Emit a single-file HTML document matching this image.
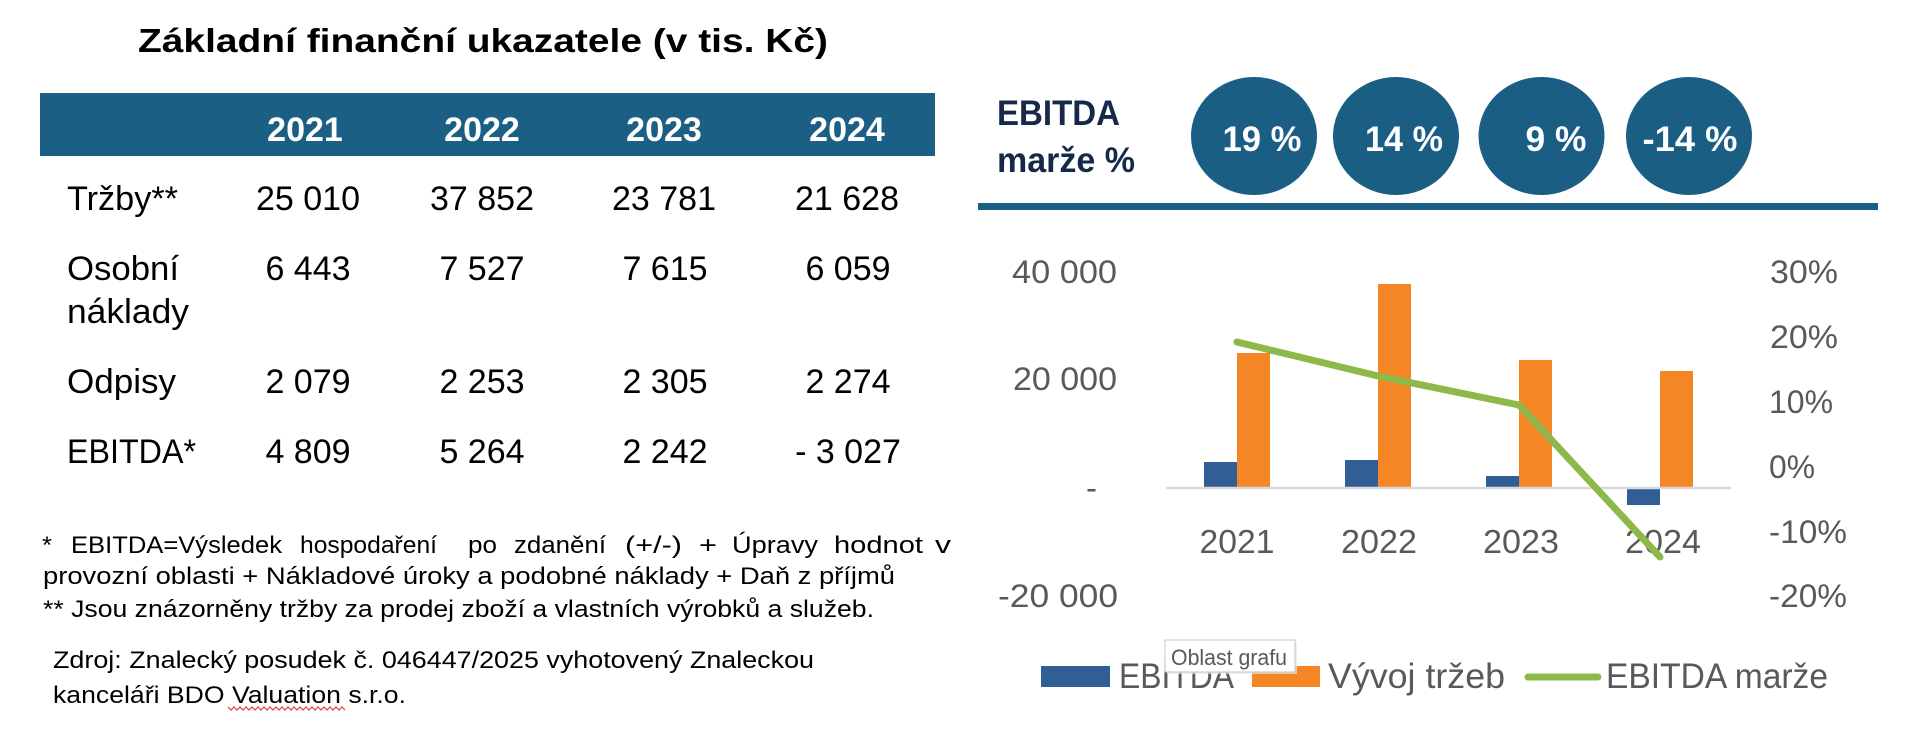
<!DOCTYPE html>
<html>
<head>
<meta charset="utf-8">
<style>
  html,body{margin:0;padding:0;background:#fff;}
  svg{display:block;}
  text{font-family:"Liberation Sans", "DejaVu Sans", sans-serif;}
</style>
</head>
<body>
<svg width="1920" height="739" viewBox="0 0 1920 739" xmlns="http://www.w3.org/2000/svg">
  <rect x="0" y="0" width="1920" height="739" fill="#ffffff"/>

  <!-- Title -->
  <text x="138" y="52" font-size="33" font-weight="bold" fill="#000" textLength="690" lengthAdjust="spacingAndGlyphs">Základní finanční ukazatele (v tis. Kč)</text>

  <!-- Table header -->
  <rect x="40" y="93" width="895" height="63" fill="#1c5f84"/>
  <g font-size="34" font-weight="bold" fill="#ffffff" text-anchor="middle">
    <text x="305" y="141">2021</text>
    <text x="482" y="141">2022</text>
    <text x="664" y="141">2023</text>
    <text x="847" y="141">2024</text>
  </g>

  <!-- Table rows -->
  <g font-size="34" fill="#000">
    <text x="67" y="210" textLength="111" lengthAdjust="spacingAndGlyphs">Tržby**</text>
    <text x="67" y="280" textLength="112" lengthAdjust="spacingAndGlyphs">Osobní</text>
    <text x="67" y="323" textLength="122" lengthAdjust="spacingAndGlyphs">náklady</text>
    <text x="67" y="393" textLength="109" lengthAdjust="spacingAndGlyphs">Odpisy</text>
    <text x="67" y="463" textLength="129" lengthAdjust="spacingAndGlyphs">EBITDA*</text>
  </g>
  <g font-size="34" fill="#000" text-anchor="middle">
    <text x="308" y="210">25 010</text>
    <text x="482" y="210">37 852</text>
    <text x="664" y="210">23 781</text>
    <text x="847" y="210">21 628</text>

    <text x="308" y="280">6 443</text>
    <text x="482" y="280">7 527</text>
    <text x="665" y="280">7 615</text>
    <text x="848" y="280">6 059</text>

    <text x="308" y="393">2 079</text>
    <text x="482" y="393">2 253</text>
    <text x="665" y="393">2 305</text>
    <text x="848" y="393">2 274</text>

    <text x="308" y="463">4 809</text>
    <text x="482" y="463">5 264</text>
    <text x="665" y="463">2 242</text>
    <text x="848" y="463">- 3 027</text>
  </g>

  <!-- Footnotes -->
  <g font-size="24.5" fill="#000">
    <text x="42" y="553" textLength="10" lengthAdjust="spacingAndGlyphs">*</text>
    <text x="71" y="553" textLength="211" lengthAdjust="spacingAndGlyphs">EBITDA=Výsledek</text>
    <text x="300" y="553" textLength="137" lengthAdjust="spacingAndGlyphs">hospodaření</text>
    <text x="468" y="553" textLength="29" lengthAdjust="spacingAndGlyphs">po</text>
    <text x="514" y="553" textLength="92" lengthAdjust="spacingAndGlyphs">zdanění</text>
    <text x="625" y="553" textLength="57" lengthAdjust="spacingAndGlyphs">(+/-)</text>
    <text x="699" y="553" textLength="18" lengthAdjust="spacingAndGlyphs">+</text>
    <text x="732" y="553" textLength="86" lengthAdjust="spacingAndGlyphs">Úpravy</text>
    <text x="834" y="553" textLength="89" lengthAdjust="spacingAndGlyphs">hodnot</text>
    <text x="935" y="553" textLength="16" lengthAdjust="spacingAndGlyphs">v</text>

    <text x="43" y="584" textLength="852" lengthAdjust="spacingAndGlyphs">provozní oblasti + Nákladové úroky a podobné náklady + Daň z příjmů</text>
    <text x="43" y="617" textLength="831" lengthAdjust="spacingAndGlyphs">** Jsou znázorněny tržby za prodej zboží a vlastních výrobků a služeb.</text>

    <text x="53" y="668" textLength="761" lengthAdjust="spacingAndGlyphs">Zdroj: Znalecký posudek č. 046447/2025 vyhotovený Znaleckou</text>
    <text x="53" y="703" textLength="353" lengthAdjust="spacingAndGlyphs">kanceláři BDO Valuation s.r.o.</text>
  </g>
  <polyline fill="none" stroke="#e04040" stroke-width="1.2"
    points="228,707 231,710 234,707 237,710 240,707 243,710 246,707 249,710 252,707 255,710 258,707 261,710 264,707 267,710 270,707 273,710 276,707 279,710 282,707 285,710 288,707 291,710 294,707 297,710 300,707 303,710 306,707 309,710 312,707 315,710 318,707 321,710 324,707 327,710 330,707 333,710 336,707 339,710 342,707 345,710"/>

  <!-- EBITDA marže header -->
  <text x="997" y="125" font-size="35" font-weight="bold" fill="#16294a" textLength="123" lengthAdjust="spacingAndGlyphs">EBITDA</text>
  <text x="997" y="172" font-size="35" font-weight="bold" fill="#16294a" textLength="138" lengthAdjust="spacingAndGlyphs">marže %</text>

  <g fill="#1b5e84">
    <ellipse cx="1254" cy="136" rx="63" ry="59"/>
    <ellipse cx="1396" cy="136" rx="63" ry="59"/>
    <ellipse cx="1541.5" cy="136" rx="63" ry="59"/>
    <ellipse cx="1689" cy="136" rx="63" ry="59"/>
  </g>
  <g font-size="35" font-weight="bold" fill="#ffffff" text-anchor="middle">
    <text x="1262" y="151" textLength="79" lengthAdjust="spacingAndGlyphs">19 %</text>
    <text x="1404" y="151" textLength="78" lengthAdjust="spacingAndGlyphs">14 %</text>
    <text x="1556" y="151" textLength="61" lengthAdjust="spacingAndGlyphs">9 %</text>
    <text x="1690" y="151" textLength="95" lengthAdjust="spacingAndGlyphs">-14 %</text>
  </g>
  <rect x="978" y="203" width="900" height="7" fill="#1b5e84"/>

  <!-- Chart axis labels -->
  <g font-size="32" fill="#595959">
    <text x="1117" y="283" text-anchor="end" textLength="105" lengthAdjust="spacingAndGlyphs">40 000</text>
    <text x="1117" y="390" text-anchor="end" textLength="104" lengthAdjust="spacingAndGlyphs">20 000</text>
    <text x="1086" y="499" textLength="11" lengthAdjust="spacingAndGlyphs">-</text>
    <text x="998" y="607" textLength="120" lengthAdjust="spacingAndGlyphs">-20 000</text>

    <text x="1770" y="283" textLength="68" lengthAdjust="spacingAndGlyphs">30%</text>
    <text x="1770" y="348" textLength="68" lengthAdjust="spacingAndGlyphs">20%</text>
    <text x="1769" y="413" textLength="64" lengthAdjust="spacingAndGlyphs">10%</text>
    <text x="1769" y="478" textLength="46" lengthAdjust="spacingAndGlyphs">0%</text>
    <text x="1769" y="543" textLength="78" lengthAdjust="spacingAndGlyphs">-10%</text>
    <text x="1769" y="607" textLength="78" lengthAdjust="spacingAndGlyphs">-20%</text>
  </g>

  <!-- Bars -->
  <g fill="#f48625">
    <rect x="1237" y="353" width="33" height="135"/>
    <rect x="1378" y="284" width="33" height="204"/>
    <rect x="1519" y="360" width="33" height="128"/>
    <rect x="1660" y="371" width="33" height="117"/>
  </g>
  <g fill="#325e96">
    <rect x="1204" y="462" width="33" height="26"/>
    <rect x="1345" y="460" width="33" height="28"/>
    <rect x="1486" y="476" width="33" height="12"/>
    <rect x="1627" y="489" width="33" height="16"/>
  </g>
  <line x1="1166" y1="488" x2="1731" y2="488" stroke="#d9d9d9" stroke-width="2.5"/>

  <!-- Category labels -->
  <g font-size="33" fill="#595959" text-anchor="middle">
    <text x="1237" y="553" textLength="75" lengthAdjust="spacingAndGlyphs">2021</text>
    <text x="1379" y="553" textLength="76" lengthAdjust="spacingAndGlyphs">2022</text>
    <text x="1521" y="553" textLength="76" lengthAdjust="spacingAndGlyphs">2023</text>
    <text x="1663" y="553" textLength="76" lengthAdjust="spacingAndGlyphs">2024</text>
  </g>

  <!-- EBITDA margin line -->
  <polyline fill="none" stroke="#8db84a" stroke-width="7" stroke-linejoin="round" stroke-linecap="round"
    points="1237,342 1378,376 1519,405 1660,557"/>

  <!-- Legend -->
  <rect x="1041" y="666" width="69" height="21" fill="#325e96"/>
  <text x="1119" y="688" font-size="35" fill="#595959" textLength="115" lengthAdjust="spacingAndGlyphs">EBITDA</text>
  <rect x="1252" y="666" width="68" height="21" fill="#f48625"/>
  <text x="1328" y="688" font-size="35" fill="#595959" textLength="177" lengthAdjust="spacingAndGlyphs">Vývoj tržeb</text>
  <line x1="1528" y1="677" x2="1598" y2="677" stroke="#8db84a" stroke-width="7" stroke-linecap="round"/>
  <text x="1606" y="688" font-size="35" fill="#595959" textLength="222" lengthAdjust="spacingAndGlyphs">EBITDA marže</text>

  <!-- Tooltip -->
  <rect x="1167" y="642" width="130" height="32" fill="#e8e8e8" opacity="0.7"/>
  <rect x="1165" y="640" width="130" height="32" fill="#ffffff" stroke="#c4c4c4" stroke-width="1"/>
  <text x="1171" y="665" font-size="22" fill="#595959" textLength="116" lengthAdjust="spacingAndGlyphs">Oblast grafu</text>
</svg>
</body>
</html>
